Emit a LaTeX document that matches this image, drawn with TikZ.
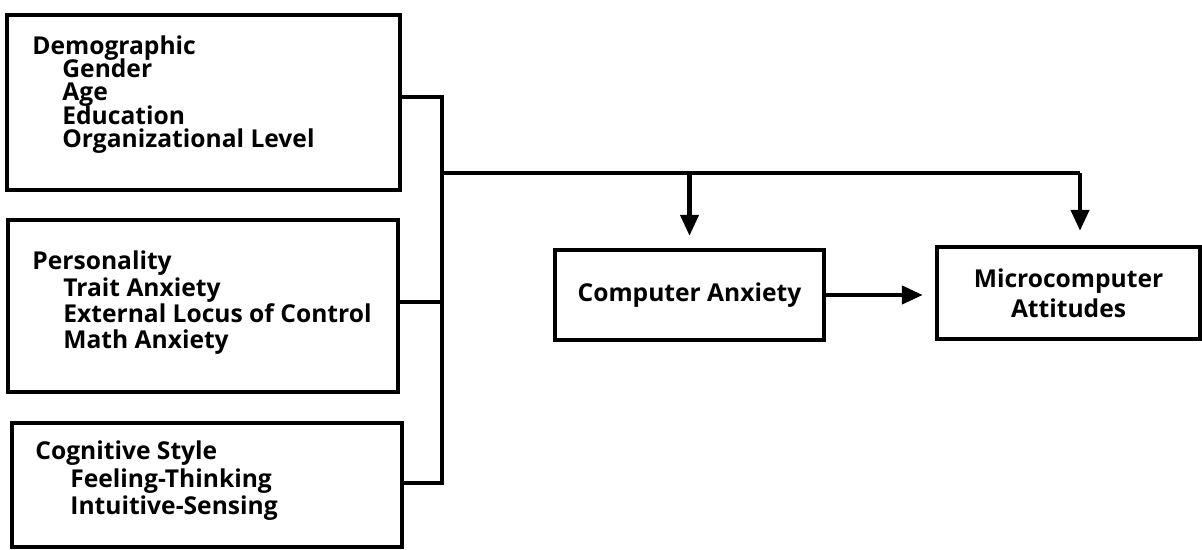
\documentclass[tikz,border=0pt]{standalone}
\usepackage{fontspec}
\setmainfont{Open Sans}
\usetikzlibrary{arrows.meta}
\tikzset{
  box/.style={draw, line width=2.2pt, inner sep=0pt, align=center, font=\fontsize{12.3}{15}\selectfont\bfseries},
  hd/.style={anchor=base west, inner sep=0pt, font=\fontsize{12.3}{15}\selectfont\bfseries},
  wire/.style={line width=2.2pt},
  arr/.style={line width=2.2pt, -{Triangle[length=10.5pt,width=9pt]}},
}
\begin{document}
\begin{tikzpicture}[x=0.5pt,y=-0.5pt]
\useasboundingbox (0,0) rectangle (1202,550);
% left boxes
\node[box, minimum width=196.5pt, minimum height=87.5pt] (b1) at (203.5,102.5) {};
\node[box, minimum width=195pt, minimum height=86pt] (b2) at (203,306) {};
\node[box, minimum width=195pt, minimum height=62pt] (b3) at (207,485) {};
% texts box 1
\node[hd] (d0) at (32,55) {Demographic};
\node[hd] (d1) at (62,78) {Gender};
\node[hd] (d2) at (62,101) {Age};
\node[hd] (d3) at (62,125) {Education};
\node[hd] (d4) at (62,148) {Organizational Level};
% texts box 2
\node[hd] (p0) at (32,270) {Personality};
\node[hd] (p1) at (63,296) {Trait Anxiety};
\node[hd] (p2) at (63,322) {External Locus of Control};
\node[hd] (p3) at (63,348) {Math Anxiety};
% texts box 3
\node[hd] (c0) at (35,459) {Cognitive Style};
\node[hd] (c1) at (70,487) {Feeling-Thinking};
\node[hd] (c2) at (70,514) {Intuitive-Sensing};
% right boxes
\node[box, minimum width=134.5pt, minimum height=45pt] (ca) at (689.5,295) {Computer Anxiety};
\node[box, minimum width=131.5pt, minimum height=46pt] (mc) at (1068.5,293) {Microcomputer\\Attitudes};
% junction coordinates
\coordinate (j1) at (442,97);
\coordinate (j2) at (442,302);
\coordinate (j3) at (442,483);
\coordinate (m) at (442,173);
\coordinate (t2) at (1080,173);
% connectors
\draw[wire] (b1.east |- j1) -- (j1) -- (j3) -- (b3.east |- j3);
\draw[wire] (b2.east |- j2) -- (j2);
\draw[wire] (m) -- (t2);
\draw[arr, shorten >=6pt] (ca.north |- m) -- (ca.north);
\draw[arr, shorten >=7pt] (t2) -- (mc.north -| t2);
\draw[arr, shorten >=6pt] (ca.east) -- (ca.east -| mc.west);
\end{tikzpicture}
\end{document}
